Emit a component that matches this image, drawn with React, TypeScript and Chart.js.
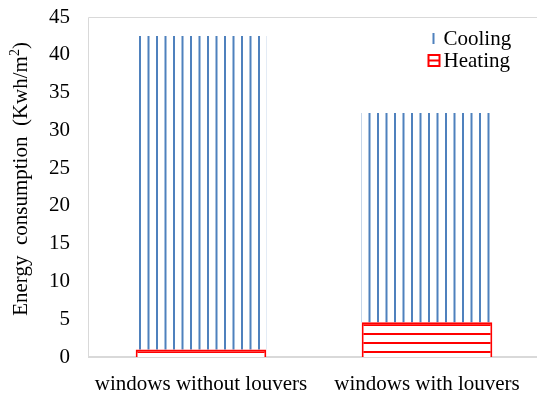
import { useEffect, useRef } from "react";
import { Chart, registerables } from "chart.js";

Chart.register(...registerables);

// Annual energy use per window configuration (kWh/m²)
const categories = ["windows without louvers", "windows with louvers"];
const heatingValues = [1.0, 4.6];
const coolingValues = [41.5, 27.7];
const seriesNames = ["Cooling", "Heating"];
const yMin = 0;
const yMax = 45;
const yStep = 5;
// Axis title pieces: main text, superscript, closing bracket
const yTitleMain = "Energy  consumption  (Kwh/m";
const yTitleSup = "2";
const yTitleEnd = ")";

const FONT = "'Liberation Serif', 'Times New Roman', serif";
const BLUE = "#4f81bd";
const RED = "#ff0000";

// Vertical hatch used for the cooling bars
function makeCoolingPattern(ctx: CanvasRenderingContext2D): CanvasPattern | string {
  const tile = document.createElement("canvas");
  tile.width = 17;
  tile.height = 4;
  const t = tile.getContext("2d");
  if (!t) return BLUE;
  t.fillStyle = "#ffffff";
  t.fillRect(0, 0, 17, 4);
  t.fillStyle = BLUE;
  t.fillRect(3, 0, 2, 4);
  t.fillRect(11.5, 0, 2, 4);
  return ctx.createPattern(tile, "repeat") || BLUE;
}

// Horizontal hatch used for the heating bars
function makeHeatingPattern(ctx: CanvasRenderingContext2D): CanvasPattern | string {
  const tile = document.createElement("canvas");
  tile.width = 4;
  tile.height = 9;
  const t = tile.getContext("2d");
  if (!t) return "#ffffff";
  t.fillStyle = "#ffffff";
  t.fillRect(0, 0, 4, 9);
  t.fillStyle = RED;
  t.fillRect(0, 0, 4, 2);
  return ctx.createPattern(tile, "repeat") || "#ffffff";
}

const framePlugin = {
  id: "plotFrame",
  beforeDatasetsDraw(chart: any) {
    const { ctx, chartArea: a } = chart;
    ctx.save();
    ctx.strokeStyle = "#d9d9d9";
    ctx.lineWidth = 1;
    ctx.beginPath();
    ctx.moveTo(a.left + 0.5, a.bottom);
    ctx.lineTo(a.left + 0.5, a.top + 0.5);
    ctx.lineTo(a.right - 0.5, a.top + 0.5);
    ctx.lineTo(a.right - 0.5, a.bottom);
    ctx.stroke();
    ctx.lineWidth = 2;
    ctx.beginPath();
    ctx.moveTo(a.left, a.bottom);
    ctx.lineTo(a.right, a.bottom);
    ctx.stroke();
    ctx.restore();
  },
};

// Rotated y-axis title with a raised superscript
const yTitlePlugin = {
  id: "yTitle",
  afterDraw(chart: any) {
    const { ctx } = chart;
    const mainFont = `21px ${FONT}`;
    const supFont = `14px ${FONT}`;
    ctx.save();
    ctx.font = mainFont;
    const w1 = ctx.measureText(yTitleMain).width;
    const w3 = ctx.measureText(yTitleEnd).width;
    ctx.font = supFont;
    const w2 = ctx.measureText(yTitleSup).width;
    const total = w1 + w2 + w3;
    ctx.translate(27, 179);
    ctx.rotate(-Math.PI / 2);
    ctx.fillStyle = "#000";
    ctx.textBaseline = "alphabetic";
    ctx.textAlign = "left";
    let x = -total / 2;
    ctx.font = mainFont;
    ctx.fillText(yTitleMain, x, 0);
    x += w1;
    ctx.font = supFont;
    ctx.fillText(yTitleSup, x, -8);
    x += w2;
    ctx.font = mainFont;
    ctx.fillText(yTitleEnd, x, 0);
    ctx.restore();
  },
};

const legendPlugin = {
  id: "hatchLegend",
  afterDraw(chart: any) {
    const { ctx, chartArea: a } = chart;
    const textX = a.right - 96.5;
    const coolY = a.top + 28;
    const heatY = a.top + 49.5;
    ctx.save();
    ctx.font = `21px ${FONT}`;
    ctx.textAlign = "left";
    ctx.textBaseline = "alphabetic";
    // Cooling swatch: a single blue stroke
    ctx.fillStyle = BLUE;
    ctx.fillRect(textX - 11, coolY - 12, 2, 11);
    // Heating swatch: red box with a middle rule
    ctx.strokeStyle = RED;
    ctx.lineWidth = 2;
    ctx.strokeRect(textX - 15, heatY - 11.5, 11, 11);
    ctx.beginPath();
    ctx.moveTo(textX - 15, heatY - 6);
    ctx.lineTo(textX - 4, heatY - 6);
    ctx.stroke();
    ctx.fillStyle = "#000";
    ctx.fillText(seriesNames[0], textX, coolY);
    ctx.fillText(seriesNames[1], textX, heatY);
    ctx.restore();
  },
};

export default function App() {
  const canvasRef = useRef<HTMLCanvasElement | null>(null);

  useEffect(() => {
    const canvas = canvasRef.current;
    if (!canvas) return;
    const ctx = canvas.getContext("2d");
    if (!ctx) return;

    const chart = new Chart(canvas, {
      type: "bar",
      data: {
        labels: categories,
        datasets: [
          {
            label: seriesNames[1],
            data: heatingValues,
            backgroundColor: makeHeatingPattern(ctx) as any,
            borderColor: RED,
            borderWidth: 2,
            stack: "energy",
          },
          {
            label: seriesNames[0],
            data: coolingValues,
            backgroundColor: makeCoolingPattern(ctx) as any,
            borderWidth: 0,
            stack: "energy",
          },
        ],
      },
      options: {
        animation: false,
        responsive: false,
        devicePixelRatio: 1,
        layout: { padding: { top: 17, left: 0, right: 0, bottom: 0 } },
        datasets: {
          bar: { categoryPercentage: 1, barPercentage: 0.578 },
        },
        plugins: {
          legend: { display: false },
          tooltip: { enabled: false },
          title: { display: false },
        },
        scales: {
          x: {
            stacked: true,
            grid: { display: false, drawTicks: false },
            border: { display: false },
            ticks: {
              color: "#000",
              font: { family: FONT, size: 21 },
              padding: 15,
              maxRotation: 0,
            },
            afterFit(scale: any) {
              scale.height = 37;
            },
          },
          y: {
            stacked: true,
            min: yMin,
            max: yMax,
            grid: { display: false, drawTicks: false },
            border: { display: false },
            ticks: {
              stepSize: yStep,
              color: "#000",
              font: { family: FONT, size: 21 },
              padding: 18,
            },
            afterFit(scale: any) {
              scale.width = 88;
              scale.paddingTop = 0;
              scale.paddingBottom = 0;
            },
          },
        },
      },
      plugins: [framePlugin, yTitlePlugin, legendPlugin],
    });

    return () => chart.destroy();
  }, []);

  return (
    <div
      style={{
        position: "fixed",
        left: 0,
        top: 0,
        width: 537,
        height: 394,
        overflow: "hidden",
        background: "#fff",
      }}
    >
      <canvas ref={canvasRef} width={540} height={394} style={{ display: "block" }} />
    </div>
  );
}
